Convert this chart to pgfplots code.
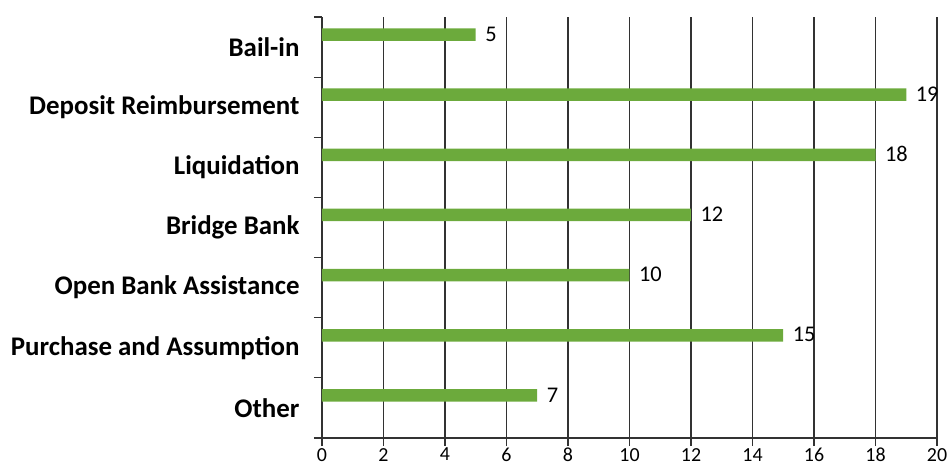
\documentclass[border=0pt]{standalone}
\usepackage{pgfplots}
\pgfplotsset{compat=1.18}
\usepackage{fontspec}
\setmainfont{Carlito}
\definecolor{bargreen}{RGB}{108,170,60}
\definecolor{gridc}{RGB}{50,50,50}
\begin{document}
\begin{tikzpicture}
\path[use as bounding box] (-322bp,-30bp) rectangle (625bp,438bp);
\begin{axis}[
  at={(0,0)}, anchor=south west,
  scale only axis, width=615bp, height=421bp,
  xmin=0, xmax=20, ymin=-0.5, ymax=6.5,
  xtick={0,2,...,20},
  ytick={0,...,6},
  yticklabels={Other, Purchase and Assumption, Open Bank Assistance, Bridge Bank, Liquidation, Deposit Reimbursement, Bail-in},
  minor ytick={-0.5,0.5,...,6.5},
  axis x line*=bottom, axis y line*=left,
  axis line style={gridc, line width=1.1pt},
  xmajorgrids, grid style={gridc, line width=1.1pt},
  tick align=outside,
  major tick length=8bp, minor tick length=8bp,
  tick style={gridc, line width=1.1pt},
  major y tick style={draw=none},
  /pgf/number format/assume math mode=true,
  xticklabel style={font=\fontsize{20}{22}\selectfont, yshift=-1bp, inner sep=1bp},
  yticklabel style={font=\bfseries\fontsize{27}{29}\selectfont, xshift=-11bp},
]
\addplot[xbar, fill=bargreen, draw=none, bar width=12.5bp, bar shift=12.5bp,
  nodes near coords,
  nodes near coords style={font=\fontsize{22.5}{24}\selectfont, anchor=west, xshift=6bp, yshift=13bp, text=black}]
  coordinates {(7,0) (15,1) (10,2) (12,3) (18,4) (19,5) (5,6)};
\end{axis}
\end{tikzpicture}
\end{document}
